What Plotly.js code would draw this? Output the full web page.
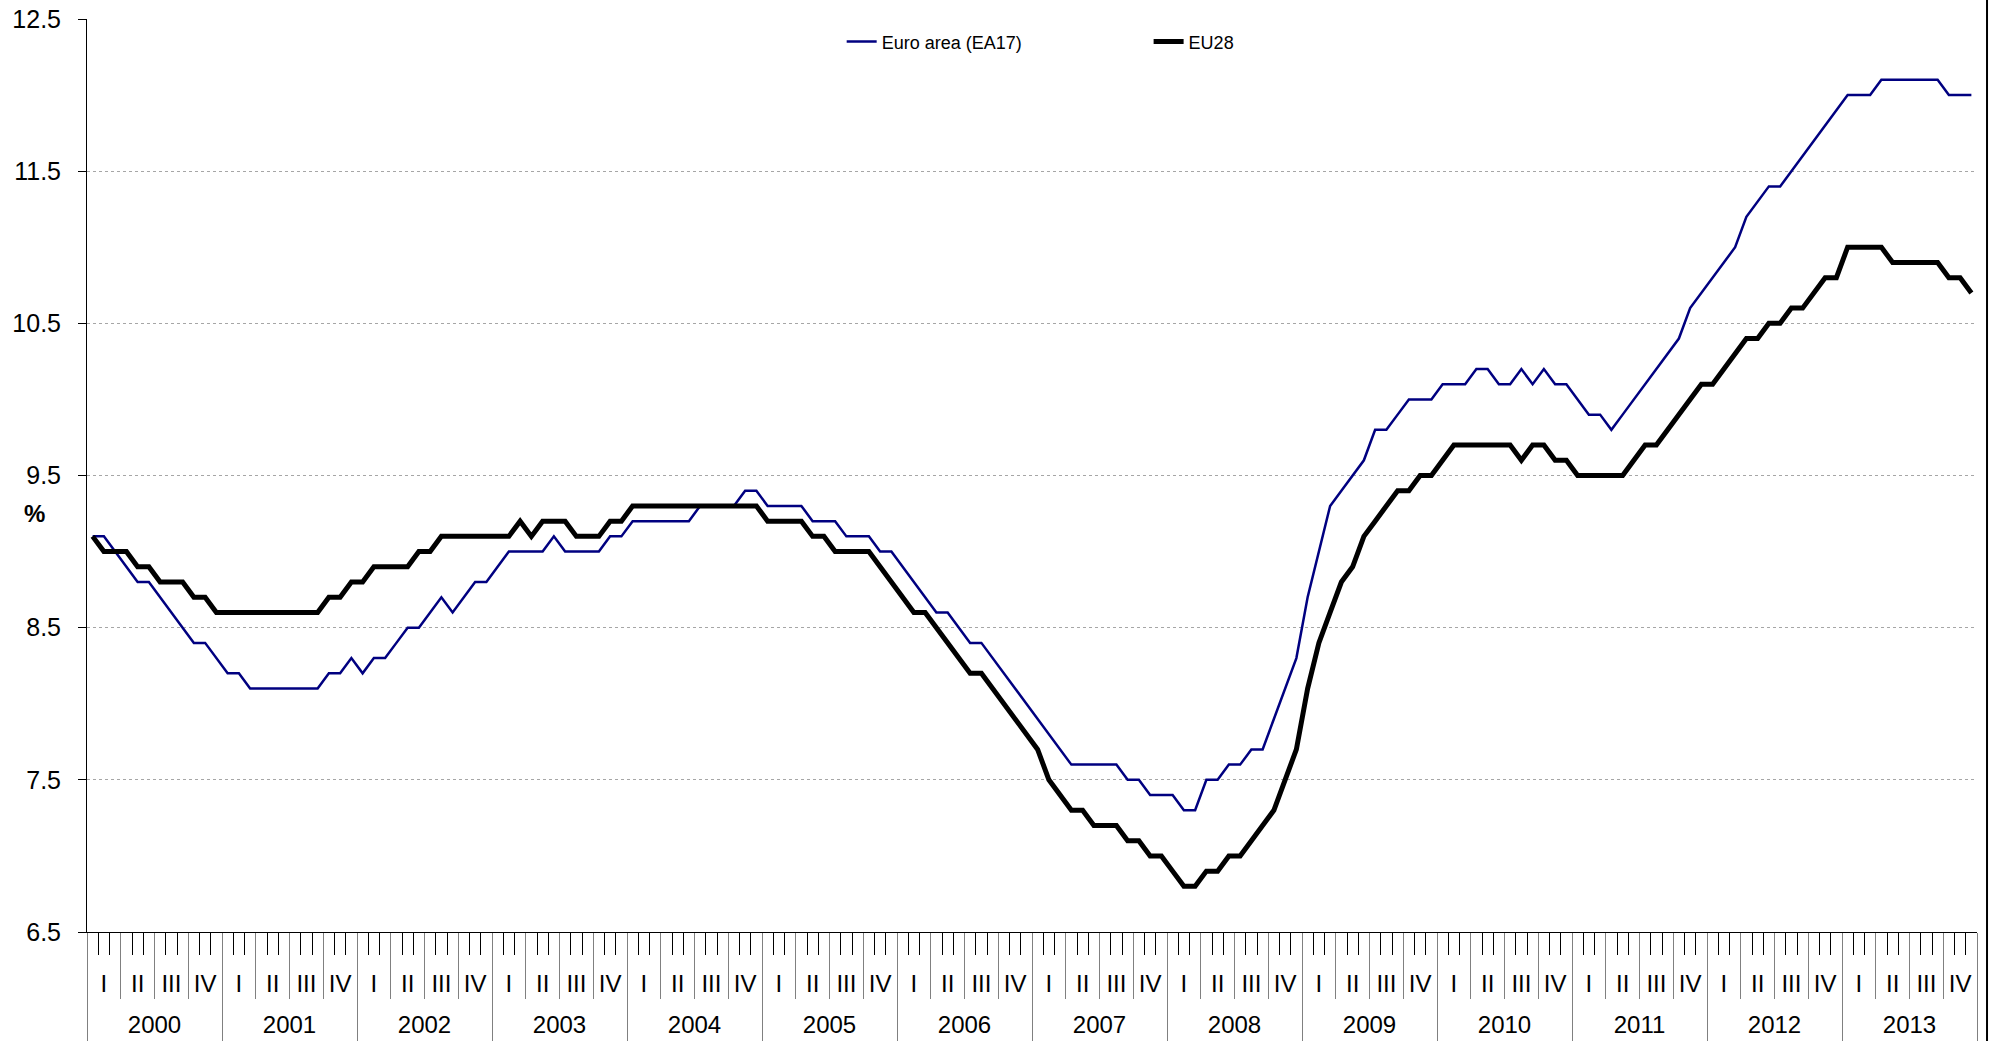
<!DOCTYPE html>
<html><head><meta charset="utf-8">
<script src="https://cdn.plot.ly/plotly-3.0.1.min.js"></script>
<style>html,body{margin:0;padding:0;background:#fff;}#chart{width:1993px;height:1041px;}</style>
</head><body><div id="chart"></div>
<script>
// ---- data ----
const years = ['2000','2001','2002','2003','2004','2005','2006','2007','2008','2009','2010','2011','2012','2013'];
const quarters = ['I','II','III','IV'];
const seriesNames = ['Euro area (EA17)', 'EU28'];
const euroArea = [
  9.1, 9.1, 9.0, 8.9, 8.8, 8.8, 8.7, 8.6, 8.5, 8.4, 8.4, 8.3,
  8.2, 8.2, 8.1, 8.1, 8.1, 8.1, 8.1, 8.1, 8.1, 8.2, 8.2, 8.3,
  8.2, 8.3, 8.3, 8.4, 8.5, 8.5, 8.6, 8.7, 8.6, 8.7, 8.8, 8.8,
  8.9, 9.0, 9.0, 9.0, 9.0, 9.1, 9.0, 9.0, 9.0, 9.0, 9.1, 9.1,
  9.2, 9.2, 9.2, 9.2, 9.2, 9.2, 9.3, 9.3, 9.3, 9.3, 9.4, 9.4,
  9.3, 9.3, 9.3, 9.3, 9.2, 9.2, 9.2, 9.1, 9.1, 9.1, 9.0, 9.0,
  8.9, 8.8, 8.7, 8.6, 8.6, 8.5, 8.4, 8.4, 8.3, 8.2, 8.1, 8.0,
  7.9, 7.8, 7.7, 7.6, 7.6, 7.6, 7.6, 7.6, 7.5, 7.5, 7.4, 7.4,
  7.4, 7.3, 7.3, 7.5, 7.5, 7.6, 7.6, 7.7, 7.7, 7.9, 8.1, 8.3,
  8.7, 9.0, 9.3, 9.4, 9.5, 9.6, 9.8, 9.8, 9.9, 10.0, 10.0, 10.0,
  10.1, 10.1, 10.1, 10.2, 10.2, 10.1, 10.1, 10.2, 10.1, 10.2, 10.1, 10.1,
  10.0, 9.9, 9.9, 9.8, 9.9, 10.0, 10.1, 10.2, 10.3, 10.4, 10.6, 10.7,
  10.8, 10.9, 11.0, 11.2, 11.3, 11.4, 11.4, 11.5, 11.6, 11.7, 11.8, 11.9,
  12.0, 12.0, 12.0, 12.1, 12.1, 12.1, 12.1, 12.1, 12.1, 12.0, 12.0, 12.0
];
const eu28 = [
  9.1, 9.0, 9.0, 9.0, 8.9, 8.9, 8.8, 8.8, 8.8, 8.7, 8.7, 8.6,
  8.6, 8.6, 8.6, 8.6, 8.6, 8.6, 8.6, 8.6, 8.6, 8.7, 8.7, 8.8,
  8.8, 8.9, 8.9, 8.9, 8.9, 9.0, 9.0, 9.1, 9.1, 9.1, 9.1, 9.1,
  9.1, 9.1, 9.2, 9.1, 9.2, 9.2, 9.2, 9.1, 9.1, 9.1, 9.2, 9.2,
  9.3, 9.3, 9.3, 9.3, 9.3, 9.3, 9.3, 9.3, 9.3, 9.3, 9.3, 9.3,
  9.2, 9.2, 9.2, 9.2, 9.1, 9.1, 9.0, 9.0, 9.0, 9.0, 8.9, 8.8,
  8.7, 8.6, 8.6, 8.5, 8.4, 8.3, 8.2, 8.2, 8.1, 8.0, 7.9, 7.8,
  7.7, 7.5, 7.4, 7.3, 7.3, 7.2, 7.2, 7.2, 7.1, 7.1, 7.0, 7.0,
  6.9, 6.8, 6.8, 6.9, 6.9, 7.0, 7.0, 7.1, 7.2, 7.3, 7.5, 7.7,
  8.1, 8.4, 8.6, 8.8, 8.9, 9.1, 9.2, 9.3, 9.4, 9.4, 9.5, 9.5,
  9.6, 9.7, 9.7, 9.7, 9.7, 9.7, 9.7, 9.6, 9.7, 9.7, 9.6, 9.6,
  9.5, 9.5, 9.5, 9.5, 9.5, 9.6, 9.7, 9.7, 9.8, 9.9, 10.0, 10.1,
  10.1, 10.2, 10.3, 10.4, 10.4, 10.5, 10.5, 10.6, 10.6, 10.7, 10.8, 10.8,
  11.0, 11.0, 11.0, 11.0, 10.9, 10.9, 10.9, 10.9, 10.9, 10.8, 10.8, 10.7
];
const yTickVals = [6.5, 7.5, 8.5, 9.5, 10.5, 11.5, 12.5];
const yGridVals = [7.5, 8.5, 9.5, 10.5, 11.5];
const yUnit = '%';

// ---- derived positions (month index based) ----
const nMonths = years.length * 12;
const xMid = euroArea.map((_, i) => i + 0.5);
const monthEdges = Array.from({length: nMonths + 1}, (_, i) => i);
const quarterEdges = Array.from({length: nMonths / 3 + 1}, (_, i) => i * 3);
const yearEdges = Array.from({length: years.length + 1}, (_, i) => i * 12);
const quarterMid = [], quarterText = [];
years.forEach((y, yi) => quarters.forEach((q, qi) => { quarterMid.push(yi * 12 + qi * 3 + 1.5); quarterText.push(q); }));
const yearMid = years.map((_, i) => i * 12 + 6);

const FONT = 'Liberation Sans, Arial, sans-serif';
const xRange = [0, nMonths];

const traces = [
  {x: xMid, y: euroArea, name: seriesNames[0], type: 'scatter', mode: 'lines',
   line: {color: '#000080', width: 2.5}, legend: 'legend'},
  {x: xMid, y: eu28, name: seriesNames[1], type: 'scatter', mode: 'lines',
   line: {color: '#000000', width: 5}, legend: 'legend2'},
  {x: [], y: [], xaxis: 'x2', showlegend: false, hoverinfo: 'skip'},
  {x: [], y: [], xaxis: 'x3', showlegend: false, hoverinfo: 'skip'},
  {x: [], y: [], xaxis: 'x4', showlegend: false, hoverinfo: 'skip'},
  {x: [], y: [], xaxis: 'x5', showlegend: false, hoverinfo: 'skip'}
];

const baseX = {range: xRange, fixedrange: true, showgrid: false, zeroline: false, anchor: 'y', side: 'bottom'};

const layout = {
  width: 1993, height: 1041,
  margin: {l: 87, r: 16, t: 19, b: 109},
  paper_bgcolor: '#ffffff', plot_bgcolor: '#ffffff',
  font: {family: FONT, color: '#000', size: 24},
  showlegend: true,
  legend: {x: 0.3993, xanchor: 'left', y: 0.975, yanchor: 'middle', orientation: 'h',
           bgcolor: 'rgba(0,0,0,0)', font: {size: 18, family: FONT, color: '#000'}},
  legend2: {x: 0.5617, xanchor: 'left', y: 0.975, yanchor: 'middle', orientation: 'h',
           bgcolor: 'rgba(0,0,0,0)', font: {size: 18, family: FONT, color: '#000'}},
  xaxis: Object.assign({}, baseX, {
    showline: true, linecolor: '#000', linewidth: 1,
    tickmode: 'array', tickvals: monthEdges, ticks: 'outside', ticklen: 22,
    tickcolor: '#000', tickwidth: 1, showticklabels: false}),
  xaxis2: Object.assign({}, baseX, {overlaying: 'x', showline: false,
    tickmode: 'array', tickvals: quarterEdges, ticks: 'outside', ticklen: 66,
    tickcolor: '#808080', tickwidth: 1, showticklabels: false}),
  xaxis3: Object.assign({}, baseX, {overlaying: 'x', showline: false,
    tickmode: 'array', tickvals: yearEdges, ticks: 'outside', ticklen: 112,
    tickcolor: '#808080', tickwidth: 1, showticklabels: false}),
  xaxis4: Object.assign({}, baseX, {overlaying: 'x', showline: false,
    tickmode: 'array', tickvals: quarterMid, ticktext: quarterText, ticks: '',
    ticklabelstandoff: 35, tickfont: {size: 24, family: FONT, color: '#000'}}),
  xaxis5: Object.assign({}, baseX, {overlaying: 'x', showline: false,
    tickmode: 'array', tickvals: yearMid, ticktext: years, ticks: '',
    ticklabelstandoff: 76, tickfont: {size: 24, family: FONT, color: '#000'}}),
  yaxis: {range: [6.5, 12.5], fixedrange: true, zeroline: false,
    showline: true, linecolor: '#000', linewidth: 1,
    tickmode: 'array', tickvals: yTickVals, ticktext: yTickVals.map(v => v.toFixed(1)),
    ticks: 'outside', ticklen: 8, tickcolor: '#000', tickwidth: 1,
    ticklabelstandoff: 12, tickfont: {size: 25, family: FONT, color: '#000'},
    showgrid: false,
    minor: {tickmode: 'array', tickvals: yGridVals, showgrid: true, gridcolor: '#a6a6a6',
            griddash: 'dot', gridwidth: 1, ticks: ''}},
  annotations: [
    {text: '<b>' + yUnit + '</b>', xref: 'paper', yref: 'y', x: -0.028, y: 9.25,
     xanchor: 'center', yanchor: 'middle', showarrow: false, font: {size: 24, family: FONT, color: '#000'}}
  ],
  shapes: [
    {type: 'line', xref: 'paper', yref: 'paper', x0: 1.0053, x1: 1.0053, y0: -0.125, y1: 1.03,
     line: {color: '#000', width: 2}}
  ]
};

Plotly.newPlot('chart', traces, layout, {displayModeBar: false, staticPlot: true});
</script></body></html>
